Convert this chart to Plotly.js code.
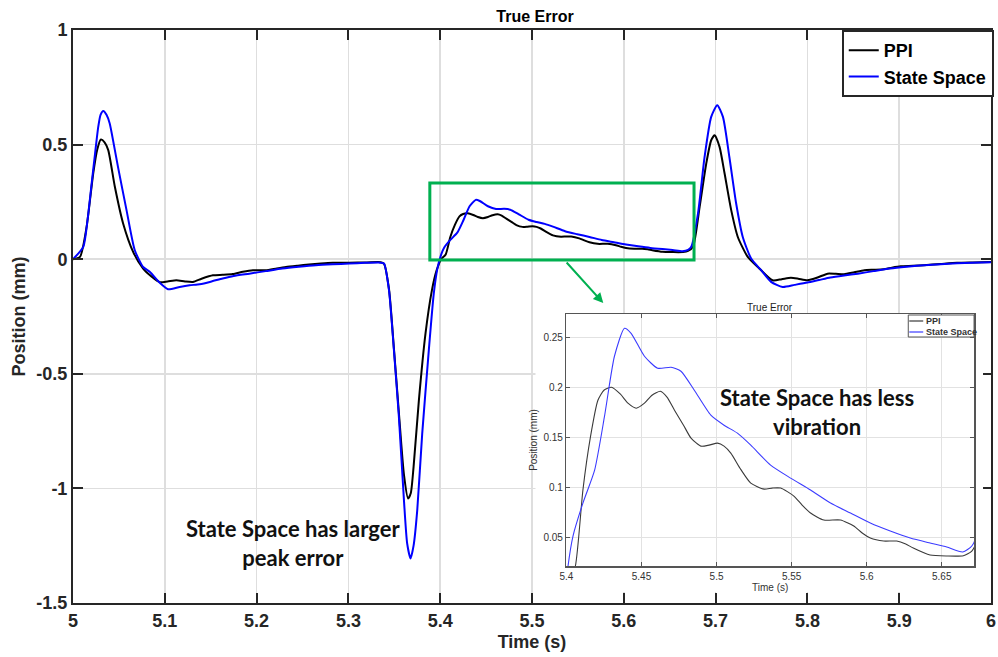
<!DOCTYPE html>
<html>
<head>
<meta charset="utf-8">
<script src="https://cdn.plot.ly/plotly-3.0.1.min.js"></script>
<style>html,body{margin:0;padding:0;background:#fff;}#chart{width:998px;height:657px;}</style>
</head>
<body>
<div id="chart"></div>
<script>
// ---- Data ----
const ppiTime = [5.000,5.0076,5.0148,5.022,5.0265,5.0304,5.0344,5.0384,5.0456,5.0546,5.0655,5.0764,5.0854,5.0945,5.103,5.1126,5.122,5.1307,5.14,5.1524,5.163,5.174,5.185,5.196,5.210,5.222,5.232,5.245,5.257,5.270,5.283,5.301,5.320,5.335,5.3388,5.3442,5.3496,5.355,5.3605,5.365,5.368,5.371,5.3768,5.384,5.391,5.396,5.401,5.406,5.411,5.416,5.421,5.425,5.430,5.436,5.441,5.4465,5.452,5.457,5.4626,5.467,5.472,5.478,5.483,5.4896,5.495,5.5007,5.505,5.5095,5.516,5.5228,5.5316,5.537,5.5427,5.5515,5.557,5.5626,5.5715,5.5825,5.5914,5.597,5.6024,5.6113,5.620,5.626,5.631,5.6422,5.6533,5.6644,5.670,5.6754,5.6826,5.6898,5.6952,5.699,5.7043,5.7098,5.717,5.7242,5.735,5.746,5.762,5.772,5.782,5.790,5.800,5.811,5.822,5.831,5.840,5.851,5.862,5.872,5.883,5.892,5.9016,5.915,5.927,5.945,5.963,5.980,6.000];
const ppiPos  = [0.000,0.010,0.141,0.374,0.480,0.522,0.510,0.476,0.316,0.156,0.032,-0.041,-0.075,-0.100,-0.097,-0.092,-0.097,-0.099,-0.085,-0.070,-0.068,-0.065,-0.055,-0.048,-0.048,-0.040,-0.034,-0.028,-0.023,-0.019,-0.016,-0.015,-0.014,-0.013,-0.020,-0.130,-0.390,-0.670,-0.940,-1.044,-1.020,-0.906,-0.615,-0.324,-0.135,-0.050,0.000,0.021,0.097,0.150,0.187,0.197,0.200,0.193,0.184,0.179,0.184,0.192,0.196,0.190,0.177,0.162,0.149,0.141,0.142,0.144,0.141,0.134,0.118,0.104,0.098,0.099,0.099,0.091,0.082,0.074,0.067,0.067,0.061,0.054,0.049,0.046,0.046,0.043,0.039,0.032,0.031,0.0313,0.036,0.054,0.228,0.417,0.519,0.541,0.490,0.374,0.214,0.097,0.010,-0.034,-0.092,-0.087,-0.081,-0.085,-0.092,-0.080,-0.063,-0.064,-0.066,-0.057,-0.048,-0.046,-0.044,-0.037,-0.031,-0.029,-0.026,-0.021,-0.016,-0.014,-0.012];

const ssTime = [5.000,5.0112,5.0158,5.0203,5.024,5.0275,5.030,5.033,5.0365,5.040,5.0445,5.049,5.0583,5.0673,5.0764,5.0836,5.0945,5.1035,5.1162,5.127,5.138,5.150,5.163,5.175,5.192,5.210,5.228,5.246,5.2646,5.283,5.301,5.318,5.335,5.3388,5.3442,5.3496,5.355,5.3605,5.364,5.3677,5.371,5.375,5.3804,5.3876,5.393,5.397,5.4011,5.4044,5.411,5.4188,5.4254,5.432,5.4387,5.4431,5.452,5.4608,5.4697,5.4763,5.4852,5.4962,5.505,5.5139,5.5228,5.536,5.5493,5.5626,5.5759,5.5892,5.6024,5.6157,5.629,5.6422,5.6533,5.664,5.670,5.6735,5.6808,5.688,5.6952,5.7018,5.708,5.715,5.7224,5.7296,5.7387,5.7496,5.7604,5.773,5.786,5.800,5.8125,5.825,5.840,5.855,5.872,5.890,5.908,5.927,5.945,5.963,5.980,6.000];
const ssPos  = [0.000,0.054,0.170,0.330,0.460,0.577,0.630,0.647,0.630,0.592,0.500,0.403,0.214,0.039,-0.034,-0.055,-0.103,-0.131,-0.121,-0.114,-0.109,-0.098,-0.084,-0.073,-0.063,-0.052,-0.041,-0.033,-0.026,-0.022,-0.019,-0.016,-0.015,-0.019,-0.135,-0.397,-0.688,-1.051,-1.240,-1.306,-1.250,-1.095,-0.761,-0.397,-0.150,-0.040,0.021,0.051,0.084,0.117,0.171,0.231,0.259,0.254,0.231,0.219,0.220,0.216,0.197,0.172,0.162,0.154,0.142,0.122,0.109,0.097,0.084,0.074,0.064,0.056,0.049,0.044,0.040,0.035,0.041,0.054,0.199,0.446,0.621,0.672,0.621,0.446,0.243,0.097,0.003,-0.048,-0.099,-0.121,-0.112,-0.102,-0.091,-0.080,-0.071,-0.063,-0.052,-0.041,-0.033,-0.026,-0.022,-0.018,-0.015,-0.013];

const seriesNames = ['PPI', 'State Space'];
const mainXTicks = [5,5.1,5.2,5.3,5.4,5.5,5.6,5.7,5.8,5.9,6];
const mainXLabels = ['5','5.1','5.2','5.3','5.4','5.5','5.6','5.7','5.8','5.9','6'];
const mainYTicks = [-1.5,-1,-0.5,0,0.5,1];
const mainYLabels = ['-1.5','-1','-0.5','0','0.5','1'];
const insetXTicks = [5.4,5.45,5.5,5.55,5.6,5.65];
const insetXLabels = ['5.4','5.45','5.5','5.55','5.6','5.65'];
const insetYTicks = [0.05,0.1,0.15,0.2,0.25];
const insetYLabels = ['0.05','0.1','0.15','0.2','0.25'];
const zoomBox = {t0: 5.3887, t1: 5.6765, p0: -0.004, p1: 0.333};

// ---- Layout geometry (pixels) ----
const W = 998, H = 657;
const PL = 73, PR = 994, PT = 30, PB = 603;
const px2x = p => (p - PL) / (PR - PL);
const py2y = p => (PB - p) / (PB - PT);

const axisDark = '#262626';
const FONT = 'Liberation Sans, Arial, sans-serif';
const NOTE_FONT = 'Lato, Noto Sans, sans-serif';
const ppiColor = '#000000', ssColor = '#0000ff';
const ppiInset = '#3a3a3a', ssInset = '#3b3bff';

const traces = [
  {x: ppiTime, y: ppiPos, name: seriesNames[0], type: 'scatter', mode: 'lines',
   line: {color: ppiColor, width: 2, shape: 'spline', smoothing: 0.6}, xaxis: 'x', yaxis: 'y'},
  {x: ssTime, y: ssPos, name: seriesNames[1], type: 'scatter', mode: 'lines',
   line: {color: ssColor, width: 2, shape: 'spline', smoothing: 0.6}, xaxis: 'x', yaxis: 'y'},
  {x: [], y: [], xaxis: 'x2', yaxis: 'y2', showlegend: false, hoverinfo: 'skip', type: 'scatter'},
  {x: ppiTime, y: ppiPos, name: seriesNames[0], type: 'scatter', mode: 'lines', showlegend: false,
   line: {color: ppiInset, width: 1.1, shape: 'spline', smoothing: 0.6}, xaxis: 'x3', yaxis: 'y3'},
  {x: ssTime, y: ssPos, name: seriesNames[1], type: 'scatter', mode: 'lines', showlegend: false,
   line: {color: ssInset, width: 1.1, shape: 'spline', smoothing: 0.6}, xaxis: 'x3', yaxis: 'y3'}
];

// inset legend geometry (pixels)
const LG = {x0: 911, x1: 977, y0: 315, y1: 337, row1: 321, row2: 332, sample: 14};

const layout = {
  width: W, height: H,
  margin: {l: PL, r: W - PR, t: PT, b: H - PB, pad: 0},
  paper_bgcolor: '#ffffff', plot_bgcolor: '#ffffff',
  font: {family: FONT, color: axisDark},
  showlegend: true,
  title: {text: 'True Error', font: {family: FONT, size: 16, weight: 700, color: '#000'},
          x: 535 / W, xanchor: 'center', y: 1 - 16 / H, yanchor: 'middle'},
  xaxis: {domain: [0, 1], range: [5, 6], tickvals: mainXTicks, ticktext: mainXLabels,
          showline: true, linecolor: axisDark, linewidth: 2, mirror: 'allticks',
          ticks: 'inside', ticklen: 10, tickwidth: 2, tickcolor: axisDark,
          showgrid: true, gridcolor: '#dedede', gridwidth: 1.5, zeroline: false,
          tickfont: {family: FONT, size: 18, weight: 700, color: axisDark},
          title: {text: 'Time (s)', font: {family: FONT, size: 18, weight: 700, color: axisDark}, standoff: 6},
          automargin: false, fixedrange: true, anchor: 'y'},
  yaxis: {domain: [0, 1], range: [-1.5, 1], tickvals: mainYTicks, ticktext: mainYLabels,
          showline: true, linecolor: axisDark, linewidth: 2, mirror: 'allticks',
          ticks: 'inside', ticklen: 10, tickwidth: 2, tickcolor: axisDark,
          showgrid: true, gridcolor: '#dedede', gridwidth: 1.5, zeroline: false,
          tickfont: {family: FONT, size: 18, weight: 700, color: axisDark},
          title: {text: 'Position (mm)', font: {family: FONT, size: 18, weight: 700, color: axisDark}, standoff: 6},
          automargin: false, fixedrange: true, anchor: 'x'},
  // white cover behind the inset (pasted figure)
  xaxis2: {domain: [px2x(537), px2x(986)], range: [0, 1], anchor: 'y2', showgrid: false, zeroline: false,
           showticklabels: false, showline: false, ticks: '', fixedrange: true},
  yaxis2: {domain: [py2y(592), py2y(314)], range: [0, 1], anchor: 'x2', showgrid: false, zeroline: false,
           showticklabels: false, showline: false, ticks: '', fixedrange: true},
  // inset
  xaxis3: {domain: [px2x(568), px2x(977)], range: [5.4, 5.6715], anchor: 'y3',
           tickvals: insetXTicks, ticktext: insetXLabels,
           showline: true, linecolor: '#555555', linewidth: 1.5, mirror: 'allticks',
           ticks: 'inside', ticklen: 4, tickwidth: 1, tickcolor: '#555555',
           showgrid: true, gridcolor: '#e2e2e2', gridwidth: 1, zeroline: false,
           tickfont: {family: FONT, size: 10, color: '#333333'},
           title: {text: 'Time (s)', font: {family: FONT, size: 10, color: '#333333'}, standoff: 2},
           automargin: false, fixedrange: true},
  yaxis3: {domain: [py2y(566), py2y(314)], range: [0.021, 0.2733], anchor: 'x3',
           tickvals: insetYTicks, ticktext: insetYLabels,
           showline: true, linecolor: '#555555', linewidth: 1.5, mirror: 'allticks',
           ticks: 'inside', ticklen: 4, tickwidth: 1, tickcolor: '#555555',
           showgrid: true, gridcolor: '#e2e2e2', gridwidth: 1, zeroline: false,
           tickfont: {family: FONT, size: 10, color: '#333333'},
           title: {text: 'Position (mm)', font: {family: FONT, size: 10, color: '#333333'}, standoff: 4},
           automargin: false, fixedrange: true},
  legend: {x: 1.003, xanchor: 'right', y: 1, yanchor: 'top', xref: 'paper', yref: 'paper',
           bgcolor: '#ffffff', bordercolor: axisDark, borderwidth: 2,
           font: {family: FONT, size: 18, weight: 700, color: '#000'},
           tracegroupgap: 0, itemwidth: 30},
  shapes: [
    {type: 'rect', xref: 'x', yref: 'y', x0: zoomBox.t0, x1: zoomBox.t1, y0: zoomBox.p0, y1: zoomBox.p1,
     line: {color: '#00b050', width: 3}, fillcolor: 'rgba(0,0,0,0)', layer: 'above'},
    // inset legend frame and line samples
    {type: 'rect', xref: 'paper', yref: 'paper', x0: px2x(LG.x0), x1: px2x(LG.x1), y0: py2y(LG.y1), y1: py2y(LG.y0),
     line: {color: '#555555', width: 1}, fillcolor: '#ffffff', layer: 'above'},
    {type: 'line', xref: 'paper', yref: 'paper', x0: px2x(LG.x0 + 1), x1: px2x(LG.x0 + 1 + LG.sample),
     y0: py2y(LG.row1), y1: py2y(LG.row1), line: {color: ppiInset, width: 1.2}, layer: 'above'},
    {type: 'line', xref: 'paper', yref: 'paper', x0: px2x(LG.x0 + 1), x1: px2x(LG.x0 + 1 + LG.sample),
     y0: py2y(LG.row2), y1: py2y(LG.row2), line: {color: ssInset, width: 1.2}, layer: 'above'}
  ],
  annotations: [
    {xref: 'paper', yref: 'paper', x: px2x(605), y: py2y(303), ax: -38, ay: -42, text: '',
     showarrow: true, arrowhead: 2, arrowsize: 1, arrowwidth: 2, arrowcolor: '#00b050'},
    {xref: 'paper', yref: 'paper', x: px2x(294), y: py2y(543), text: 'State Space has larger<br>peak error',
     showarrow: false, align: 'center', xanchor: 'center', yanchor: 'middle',
     font: {family: NOTE_FONT, size: 22, weight: 700, color: '#111'}},
    {xref: 'paper', yref: 'paper', x: px2x(819), y: py2y(412), text: 'State Space has less<br>vibration',
     showarrow: false, align: 'center', xanchor: 'center', yanchor: 'middle',
     font: {family: NOTE_FONT, size: 22, weight: 700, color: '#111'}},
    {xref: 'paper', yref: 'paper', x: px2x(772), y: py2y(307), text: 'True Error',
     showarrow: false, xanchor: 'center', yanchor: 'middle',
     font: {family: FONT, size: 10, color: '#222'}},
    {xref: 'paper', yref: 'paper', x: px2x(LG.x0 + 2 + LG.sample), y: py2y(LG.row1), text: seriesNames[0],
     showarrow: false, xanchor: 'left', yanchor: 'middle',
     font: {family: FONT, size: 9, weight: 700, color: '#333'}},
    {xref: 'paper', yref: 'paper', x: px2x(LG.x0 + 2 + LG.sample), y: py2y(LG.row2), text: seriesNames[1],
     showarrow: false, xanchor: 'left', yanchor: 'middle',
     font: {family: FONT, size: 9, weight: 700, color: '#333'}}
  ]
};

Plotly.newPlot('chart', traces, layout, {staticPlot: true, displayModeBar: false});
</script>
</body>
</html>
